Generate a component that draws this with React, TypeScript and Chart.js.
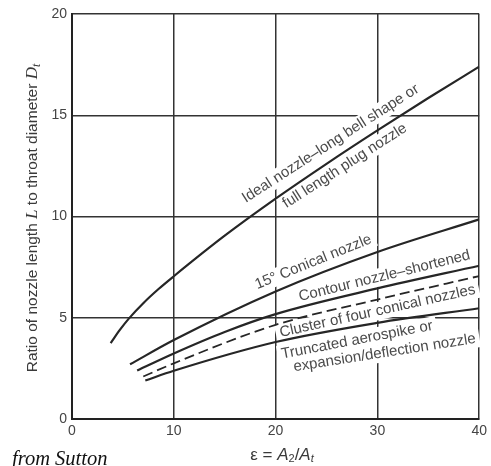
import React, { useEffect, useRef } from "react";
import { Chart, registerables } from "chart.js";
Chart.register(...registerables);

// Area ratio epsilon (x) and nozzle length ratio L/Dt (y) per curve
const idealEps = [3.8, 4.7, 5.6, 7, 8.5, 10, 15, 20, 25, 30, 35, 40];
const idealRatio = [3.75, 4.4, 4.97, 5.72, 6.42, 7.05, 9.05, 10.88, 12.6, 14.25, 15.85, 17.4];
const conicalEps = [5.7, 10, 20, 30, 40];
const conicalRatio = [2.7, 3.9, 6.3, 8.25, 9.86];
const contourEps = [6.4, 10, 15, 20, 30, 40];
const contourRatio = [2.4, 3.24, 4.3, 5.18, 6.45, 7.57];
const clusterEps = [7.0, 10, 20, 30, 40];
const clusterRatio = [2.1, 2.75, 4.65, 5.9, 7.06];
const truncEps = [7.2, 10, 20, 30, 40];
const truncRatio = [1.9, 2.38, 3.8, 4.75, 5.47];

const xTicks = [0, 10, 20, 30, 40];
const yTicks = [0, 5, 10, 15, 20];

// Curve labels: text, anchor (data coords), angle in degrees
const curveLabels = [
  { text: "Ideal nozzle\u2013long bell shape or", x: 25.4, y: 13.6, angle: -32.7 },
  { text: "full length plug nozzle", x: 26.8, y: 12.5, angle: -32.7 },
  { text: "15\u00b0 Conical nozzle", x: 23.7, y: 7.75, angle: -22 },
  { text: "Contour nozzle\u2013shortened", x: 30.7, y: 7.06, angle: -13.8 },
  { text: "Cluster of four conical nozzles", x: 30.0, y: 5.32, angle: -12.5 },
  { text: "Truncated aerospike or", x: 28.0, y: 3.9, angle: -10.8 },
  { text: "expansion/deflection nozzle", x: 30.7, y: 3.26, angle: -8.9 },
];

const toPts = (xs: number[], ys: number[]) => xs.map((x, i) => ({ x, y: ys[i] }));

type Run = { text: string; font: string; dy?: number };

function drawRuns(ctx: CanvasRenderingContext2D, runs: Run[], cx: number, cy: number) {
  let total = 0;
  for (const r of runs) {
    ctx.font = r.font;
    total += ctx.measureText(r.text).width;
  }
  let x = cx - total / 2;
  ctx.textAlign = "left";
  ctx.textBaseline = "middle";
  for (const r of runs) {
    ctx.font = r.font;
    ctx.fillText(r.text, x, cy + (r.dy || 0));
    x += ctx.measureText(r.text).width;
  }
}

const SANS = "'Liberation Sans', Arial, sans-serif";
const SERIF = "'Liberation Serif', 'Times New Roman', serif";
const LABEL_FONT = `15px ${SANS}`;

const textPlugin = {
  id: "textPlugin",
  beforeDatasetsDraw(chart: any) {
    const ctx: CanvasRenderingContext2D = chart.ctx;
    const xs = chart.scales.x;
    const ys = chart.scales.y;
    ctx.save();
    ctx.font = LABEL_FONT;
    // white boxes (gaps in grid)
    for (const l of curveLabels) {
      const px = xs.getPixelForValue(l.x);
      const py = ys.getPixelForValue(l.y);
      const w = ctx.measureText(l.text).width;
      ctx.save();
      ctx.translate(px, py);
      ctx.rotate((l.angle * Math.PI) / 180);
      ctx.fillStyle = "#ffffff";
      ctx.fillRect(-w / 2 - 4, -9, w + 8, 18);
      ctx.restore();
    }
    for (const l of curveLabels) {
      const px = xs.getPixelForValue(l.x);
      const py = ys.getPixelForValue(l.y);
      ctx.save();
      ctx.translate(px, py);
      ctx.rotate((l.angle * Math.PI) / 180);
      ctx.fillStyle = "#4a4a4a";
      ctx.textAlign = "center";
      ctx.textBaseline = "middle";
      ctx.font = LABEL_FONT;
      ctx.fillText(l.text, 0, 0);
      ctx.restore();
    }
    ctx.restore();
  },
  afterDraw(chart: any) {
    const ctx: CanvasRenderingContext2D = chart.ctx;
    ctx.save();
    ctx.fillStyle = "#3a3a3a";
    // y title
    ctx.save();
    ctx.translate(33, 218);
    ctx.rotate(-Math.PI / 2);
    drawRuns(
      ctx,
      [
        { text: "Ratio of nozzle length ", font: `15.5px ${SANS}` },
        { text: "L", font: `italic 17px ${SERIF}` },
        { text: " to throat diameter ", font: `15.5px ${SANS}` },
        { text: "D", font: `italic 17px ${SERIF}` },
        { text: "t", font: `italic 12px ${SERIF}`, dy: 4 },
      ],
      0,
      0
    );
    ctx.restore();
    // x title
    drawRuns(
      ctx,
      [
        { text: "\u03b5", font: `17px ${SANS}` },
        { text: " = ", font: `17px ${SANS}` },
        { text: "A", font: `italic 17px ${SANS}` },
        { text: "2", font: `11px ${SANS}`, dy: 4 },
        { text: "/", font: `17px ${SANS}` },
        { text: "A", font: `italic 17px ${SANS}` },
        { text: "t", font: `italic 11px ${SANS}`, dy: 4 },
      ],
      282,
      455
    );
    // source
    ctx.fillStyle = "#111";
    ctx.font = `italic 20.5px ${SERIF}`;
    ctx.textAlign = "left";
    ctx.textBaseline = "alphabetic";
    ctx.fillText("from Sutton", 12, 465);
    ctx.restore();
  },
};

export default function App() {
  const ref = useRef<HTMLCanvasElement | null>(null);
  useEffect(() => {
    if (!ref.current) return;
    const lineStyle = {
      borderColor: "#262626",
      borderWidth: 2.2,
      pointRadius: 0,
      showLine: true,
      cubicInterpolationMode: "monotone" as const,
      fill: false,
    };
    const chart = new Chart(ref.current, {
      type: "scatter",
      data: {
        datasets: [
          { label: "Ideal", data: toPts(idealEps, idealRatio), ...lineStyle },
          { label: "Conical", data: toPts(conicalEps, conicalRatio), ...lineStyle },
          { label: "Contour", data: toPts(contourEps, contourRatio), ...lineStyle },
          { label: "Cluster", data: toPts(clusterEps, clusterRatio), ...lineStyle, borderDash: [10, 5], borderWidth: 1.8 },
          { label: "Truncated", data: toPts(truncEps, truncRatio), ...lineStyle },
        ],
      },
      options: {
        animation: false,
        responsive: true,
        maintainAspectRatio: false,
        layout: { padding: { left: 0, top: 14, right: 9, bottom: 0 } },
        plugins: { legend: { display: false }, tooltip: { enabled: false } },
        scales: {
          x: {
            type: "linear",
            min: 0,
            max: 40,
            afterBuildTicks: (s: any) => {
              s.ticks = xTicks.map((v) => ({ value: v }));
            },
            afterFit: (s: any) => {
              s.height = 47;
            },
            ticks: { color: "#444", font: { family: SANS, size: 14 }, padding: 4 },
            grid: { color: "#333", lineWidth: 1.5, drawTicks: false },
            border: { display: true, color: "#222", width: 2 },
          },
          y: {
            type: "linear",
            min: 0,
            max: 20,
            afterBuildTicks: (s: any) => {
              s.ticks = yTicks.map((v) => ({ value: v }));
            },
            afterFit: (s: any) => {
              s.width = 72;
            },
            ticks: { color: "#444", font: { family: SANS, size: 14 }, padding: 5 },
            grid: { color: "#333", lineWidth: 1.5, drawTicks: false },
            border: { display: true, color: "#222", width: 2 },
          },
        },
      },
      plugins: [textPlugin],
    });
    return () => chart.destroy();
  }, []);
  return (
    <div style={{ position: "absolute", left: 0, top: 0, width: 491, height: 466, background: "#fff" }}>
      <canvas ref={ref} />
    </div>
  );
}
